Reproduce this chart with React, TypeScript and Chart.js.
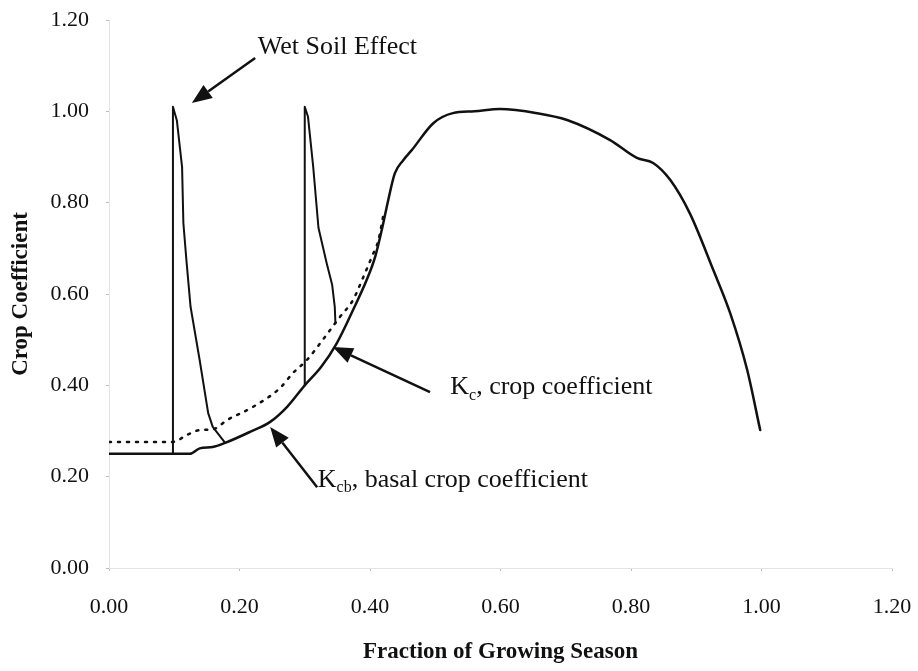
import React, { useEffect, useRef } from "react";
import { Chart, registerables } from "chart.js";

Chart.register(...registerables);

// ---- Data ----
const kcbX = [0, 0.05, 0.124, 0.139, 0.159, 0.178, 0.216, 0.247, 0.273, 0.3, 0.325, 0.349, 0.374, 0.395, 0.408, 0.418, 0.428, 0.438, 0.451, 0.464, 0.497, 0.527, 0.56, 0.599, 0.656, 0.702, 0.768, 0.809, 0.834, 0.86, 0.89, 0.926, 0.952, 0.978, 0.998];
const kcbY = [0.25, 0.25, 0.25, 0.262, 0.265, 0.274, 0.298, 0.32, 0.353, 0.4, 0.44, 0.492, 0.565, 0.631, 0.682, 0.74, 0.806, 0.864, 0.893, 0.915, 0.974, 0.996, 1.0, 1.005, 0.996, 0.981, 0.937, 0.898, 0.887, 0.85, 0.777, 0.653, 0.558, 0.434, 0.302];

const kcX = [0, 0.098, 0.119, 0.139, 0.16, 0.181, 0.221, 0.262, 0.282, 0.303, 0.331, 0.354, 0.374, 0.39, 0.403, 0.413, 0.42];
const kcY = [0.276, 0.276, 0.291, 0.302, 0.304, 0.324, 0.353, 0.394, 0.427, 0.455, 0.506, 0.55, 0.587, 0.638, 0.682, 0.718, 0.769];

const wet1X = [0.098, 0.098, 0.104, 0.112, 0.114, 0.119, 0.125, 0.139, 0.152, 0.159, 0.178];
const wet1Y = [0.25, 1.01, 0.98, 0.878, 0.755, 0.668, 0.572, 0.455, 0.339, 0.309, 0.274];

const wet2X = [0.3, 0.3, 0.305, 0.313, 0.321, 0.334, 0.342, 0.346, 0.347];
const wet2Y = [0.4, 1.01, 0.988, 0.878, 0.745, 0.665, 0.62, 0.572, 0.536];

const xTicks = [0, 0.2, 0.4, 0.6, 0.8, 1.0, 1.2];
const xTickLabels = ["0.00", "0.20", "0.40", "0.60", "0.80", "1.00", "1.20"];
const yTicks = [0, 0.2, 0.4, 0.6, 0.8, 1.0, 1.2];
const yTickLabels = ["0.00", "0.20", "0.40", "0.60", "0.80", "1.00", "1.20"];

const xTitle = "Fraction of Growing Season";
const yTitle = "Crop Coefficient";

// annotation anchors in data units
const arrows = [
  { fromX: 0.224, fromY: 1.117, toX: 0.127, toY: 1.018 },
  { fromX: 0.492, fromY: 0.385, toX: 0.343, toY: 0.484 },
  { fromX: 0.319, fromY: 0.177, toX: 0.247, toY: 0.309 },
];
const notes = [
  { x: 0.228, y: 1.141, parts: [{ t: "Wet Soil Effect" }] },
  { x: 0.523, y: 0.396, parts: [{ t: "K" }, { t: "c", sub: true }, { t: ", crop coefficient" }] },
  { x: 0.32, y: 0.193, parts: [{ t: "K" }, { t: "cb", sub: true }, { t: ", basal crop coefficient" }] },
];

const FONT = "'Liberation Serif', 'Times New Roman', serif";
const INK = "#111";

const toPts = (xs: number[], ys: number[]) => xs.map((x, i) => ({ x, y: ys[i] }));

const notePlugin = {
  id: "notes",
  afterDatasetsDraw(chart: any) {
    const { ctx, scales } = chart;
    const sx = scales.x, sy = scales.y;
    const P = (a: number, b: number) => [sx.getPixelForValue(a), sy.getPixelForValue(b)];
    ctx.save();
    ctx.strokeStyle = INK;
    ctx.fillStyle = INK;
    ctx.lineWidth = 2.5;
    const headLen = 20, headHalf = 8;
    arrows.forEach((a) => {
      const [x1, y1] = P(a.fromX, a.fromY);
      const [x2, y2] = P(a.toX, a.toY);
      const ang = Math.atan2(y2 - y1, x2 - x1);
      const bx = x2 - headLen * Math.cos(ang);
      const by = y2 - headLen * Math.sin(ang);
      ctx.beginPath();
      ctx.moveTo(x1, y1);
      ctx.lineTo(bx, by);
      ctx.stroke();
      ctx.beginPath();
      ctx.moveTo(x2, y2);
      ctx.lineTo(bx + headHalf * Math.sin(ang), by - headHalf * Math.cos(ang));
      ctx.lineTo(bx - headHalf * Math.sin(ang), by + headHalf * Math.cos(ang));
      ctx.closePath();
      ctx.fill();
    });
    const size = 26;
    ctx.textBaseline = "middle";
    ctx.textAlign = "left";
    notes.forEach((n) => {
      let [px, py] = P(n.x, n.y);
      n.parts.forEach((p: any) => {
        if (p.sub) {
          ctx.font = `${Math.round(size * 0.62)}px ${FONT}`;
          ctx.fillText(p.t, px, py + size * 0.32);
        } else {
          ctx.font = `${size}px ${FONT}`;
          ctx.fillText(p.t, px, py);
        }
        px += ctx.measureText(p.t).width;
      });
    });
    ctx.restore();
  },
};

export default function App() {
  const ref = useRef<HTMLCanvasElement | null>(null);
  useEffect(() => {
    if (!ref.current) return;
    const lineBase = { pointRadius: 0, fill: false, borderColor: INK, borderJoinStyle: "round", borderCapStyle: "round" };
    const chart = new Chart(ref.current, {
      type: "line",
      data: {
        datasets: [
          { ...lineBase, label: "Kcb", data: toPts(kcbX, kcbY), borderWidth: 2.5, cubicInterpolationMode: "monotone" },
          { ...lineBase, label: "Kc", data: toPts(kcX, kcY), borderWidth: 2.5, borderDash: [2, 7], cubicInterpolationMode: "monotone" },
          { ...lineBase, label: "wet1", data: toPts(wet1X, wet1Y), borderWidth: 2, tension: 0 },
          { ...lineBase, label: "wet2", data: toPts(wet2X, wet2Y), borderWidth: 2, tension: 0 },
        ] as any,
      },
      options: {
        animation: false,
        responsive: false,
        layout: { padding: { top: 20, right: 26, bottom: 0, left: 0 } },
        plugins: { legend: { display: false }, tooltip: { enabled: false } },
        scales: {
          x: {
            type: "linear",
            min: 0,
            max: 1.2,
            afterBuildTicks: (axis: any) => {
              axis.ticks = xTicks.map((v) => ({ value: v }));
            },
            afterFit: (scale: any) => {
              scale.height = 103;
              scale.paddingLeft = 0;
              scale.paddingRight = 0;
            },
            ticks: {
              callback: (_v: any, i: number) => xTickLabels[i],
              font: { family: FONT, size: 22 },
              color: INK,
              padding: 23,
              maxRotation: 0,
              autoSkip: false,
            },
            grid: { display: true, drawOnChartArea: false, drawTicks: true, tickLength: 3, color: "#bdbdbd" },
            border: { display: true, color: "#e4e4e4", dash: [1, 9] },
            title: { display: true, text: xTitle, font: { family: FONT, size: 23, weight: "bold" }, color: INK, padding: { top: 0, bottom: 5 } },
          },
          y: {
            type: "linear",
            min: 0,
            max: 1.2,
            afterBuildTicks: (axis: any) => {
              axis.ticks = yTicks.map((v) => ({ value: v }));
            },
            afterFit: (scale: any) => {
              scale.width = 109;
              scale.paddingTop = 0;
              scale.paddingBottom = 0;
            },
            ticks: {
              callback: (_v: any, i: number) => yTickLabels[i],
              font: { family: FONT, size: 22 },
              color: INK,
              padding: 17,
              autoSkip: false,
            },
            grid: { display: true, drawOnChartArea: false, drawTicks: true, tickLength: 3, color: "#bdbdbd" },
            border: { display: true, color: "#e4e4e4", dash: [1, 9] },
            title: { display: true, text: yTitle, font: { family: FONT, size: 23, weight: "bold" }, color: INK, padding: { top: 7, bottom: 0 } },
          },
        },
      } as any,
      plugins: [notePlugin],
    });
    return () => chart.destroy();
  }, []);
  return (
    <div style={{ position: "fixed", left: 0, top: 0, width: 918, height: 671, background: "#fff" }}>
      <canvas ref={ref} width={918} height={671} style={{ display: "block" }} />
    </div>
  );
}
